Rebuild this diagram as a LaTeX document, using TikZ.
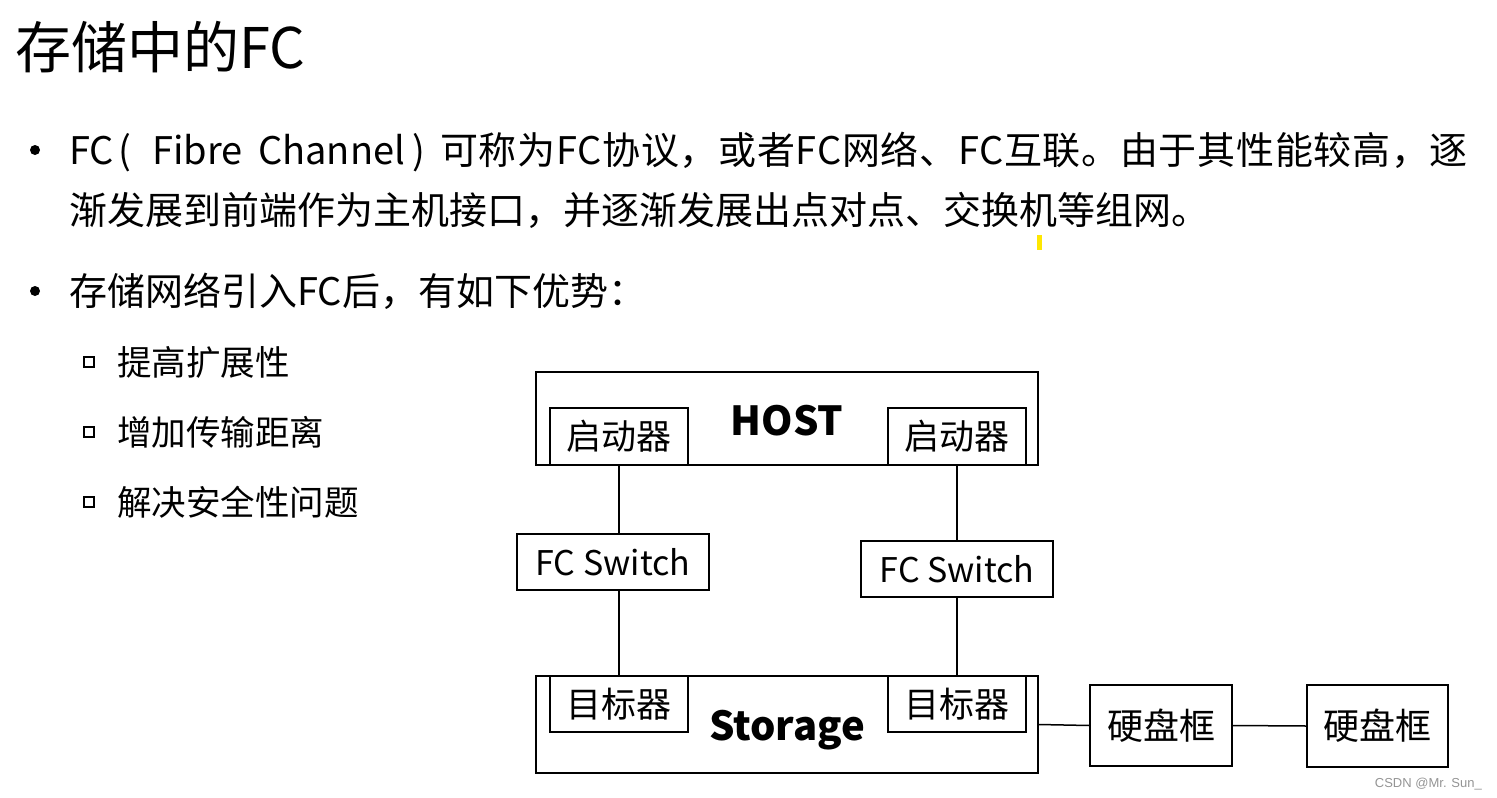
\documentclass[tikz,border=0pt]{standalone}
\usepackage{fontspec}
\setmainfont{Noto Sans CJK SC}
\newfontfamily\lsfont[LetterSpace=1.8]{Noto Sans CJK SC}
\newfontfamily\wmfont{Liberation Sans}
\begin{document}
\begin{tikzpicture}[x=1pt,y=-1pt,
  txt/.style={anchor=base west, inner sep=0pt, font=\fontsize{38}{44}\selectfont},
  subtxt/.style={anchor=base west, inner sep=0pt, font=\fontsize{34.5}{40}\selectfont},
  frame/.style={draw, line width=1.5pt, inner sep=0pt, fill=white},
  bigbox/.style={frame, minimum width=502pt},
  biglbl/.style={inner sep=0pt, font=\fontsize{40}{46}\selectfont\bfseries},
  part/.style={frame, minimum width=138pt, minimum height=57pt, font=\fontsize{35}{40}\selectfont},
  sw/.style={frame, minimum width=192pt, minimum height=56pt, font=\fontsize{34}{40}\selectfont},
  disk/.style={frame, minimum width=142pt, minimum height=81pt, font=\fontsize{36}{40}\selectfont},
  wire/.style={line width=1.5pt},
  sqbullet/.style={draw, line width=1.8pt, minimum size=10pt, inner sep=0pt}
]
\useasboundingbox (0,0) rectangle (1497,798);

% title
\node[anchor=base west, inner sep=0pt, font=\fontsize{56}{60}\selectfont] (title) at (15,68) {存储中的FC};

% bullets
\fill (35,150) circle (5pt);
\node[txt] (l1a) at (69,164) {FC};
\node[txt, anchor=base] (l1p) at (125,164) {(};
\node[txt] (l1b) at (152,164) {Fibre};
\node[txt] (l1c) at (258,164) {Channel};
\node[txt, anchor=base] (l1q) at (419,164) {)};
\node[txt, font=\lsfont\fontsize{38}{44}\selectfont] (l1d) at (440,164) {可称为FC协议，或者FC网络、FC互联。由于其性能较高，逐};
\node[txt] (l2) at (69,224) {渐发展到前端作为主机接口，并逐渐发展出点对点、交换机等组网。};
\fill (35,291) circle (5pt);
\node[txt] (l3) at (69,305) {存储网络引入FC后，有如下优势：};

\node[sqbullet] (b1) at (89,362) {};
\node[subtxt] (s1) at (117,375) {提高扩展性};
\node[sqbullet] (b2) at (89,432) {};
\node[subtxt] (s2) at (117,445) {增加传输距离};
\node[sqbullet] (b3) at (89,502) {};
\node[subtxt] (s3) at (117,515) {解决安全性问题};

% yellow cursor mark
\fill[yellow!90!orange] (1037,235) rectangle (1042,250);

% diagram
\node[bigbox, minimum height=93pt] (host) at (787,418.5) {};
\node[biglbl] (hostlbl) at (787,421) {HOST};
\node[part] (qL) at (619,436.5) {启动器};
\node[part] (qR) at (957,436.5) {启动器};

\node[sw] (swL) at (613,562) {FC Switch};
\node[sw] (swR) at (957,569) {FC Switch};

\node[bigbox, minimum height=97pt] (stor) at (787,724.5) {};
\node[biglbl] (storlbl) at (787,730) {Storage};
\node[part, minimum height=56pt] (tL) at (619,704) {目标器};
\node[part, minimum height=56pt] (tR) at (957,704) {目标器};

\node[disk] (d1) at (1161,725.5) {硬盘框};
\node[disk, minimum width=141pt, minimum height=82pt] (d2) at (1377.5,726) {硬盘框};

\draw[wire] (qL.south) -- (qL.south |- swL.north);
\draw[wire] (qL.south |- swL.south) -- (tL.north);
\draw[wire] (qR.south) -- (swR.north);
\draw[wire] (swR.south) -- (tR.north);
\draw[wire] (stor.east) -- (d1.west);
\draw[wire] (d1.east) -- (d2.west);

% watermark
\node[anchor=base east, inner sep=0pt, font=\wmfont\fontsize{13}{15}\selectfont, text=black!42] (wm) at (1482,787) {CSDN @Mr. Sun\_};
\end{tikzpicture}
\end{document}
